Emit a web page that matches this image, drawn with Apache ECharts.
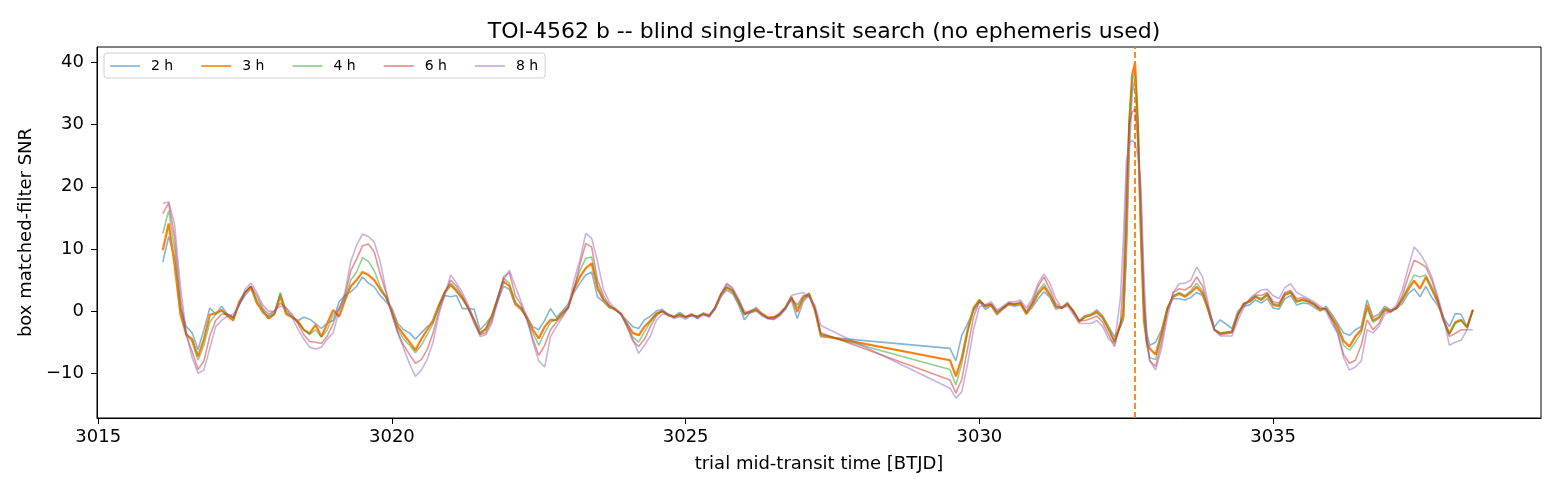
<!DOCTYPE html>
<html>
<head>
<meta charset="utf-8">
<script src="https://cdn.jsdelivr.net/npm/echarts@6/dist/echarts.min.js"></script>
<style>
html, body { margin: 0; padding: 0; background: #fff; }
#chart { width: 1560px; height: 494px; }
</style>
</head>
<body>
<div id="chart"></div>
<script>
// trial mid-transit times [BTJD] (gaps in the data near 3027.3-3029.5 and 3034.1-3034.3)
var times = [
	3016.1, 3016.2, 3016.3, 3016.4, 3016.5, 3016.6, 3016.7, 3016.8, 3016.9, 3017.0,
	3017.1, 3017.2, 3017.3, 3017.4, 3017.5, 3017.6, 3017.7, 3017.8, 3017.9, 3018.0,
	3018.1, 3018.2, 3018.3, 3018.4, 3018.5, 3018.6, 3018.7, 3018.8, 3018.9, 3019.0,
	3019.1, 3019.2, 3019.3, 3019.4, 3019.5, 3019.6, 3019.7, 3019.8, 3019.9, 3020.0,
	3020.1, 3020.2, 3020.3, 3020.4, 3020.5, 3020.6, 3020.7, 3020.8, 3020.9, 3021.0,
	3021.1, 3021.2, 3021.3, 3021.4, 3021.5, 3021.6, 3021.7, 3021.8, 3021.9, 3022.0,
	3022.1, 3022.2, 3022.3, 3022.4, 3022.5, 3022.6, 3022.7, 3022.8, 3022.9, 3023.0,
	3023.1, 3023.2, 3023.3, 3023.4, 3023.5, 3023.6, 3023.7, 3023.8, 3023.9, 3024.0,
	3024.1, 3024.2, 3024.3, 3024.4, 3024.5, 3024.6, 3024.7, 3024.8, 3024.9, 3025.0,
	3025.1, 3025.2, 3025.3, 3025.4, 3025.5, 3025.6, 3025.7, 3025.8, 3025.9, 3026.0,
	3026.1, 3026.2, 3026.3, 3026.4, 3026.5, 3026.6, 3026.7, 3026.8, 3026.9, 3027.0,
	3027.1, 3027.2, 3027.3,
	3029.5, 3029.6, 3029.7, 3029.8, 3029.9, 3030.0,
	3030.1, 3030.2, 3030.3, 3030.4, 3030.5, 3030.6, 3030.7, 3030.8, 3030.9, 3031.0,
	3031.1, 3031.2, 3031.3, 3031.4, 3031.5, 3031.6, 3031.7, 3031.8, 3031.9, 3032.0,
	3032.1, 3032.2, 3032.3, 3032.4,
	3032.45, 3032.5, 3032.55, 3032.6, 3032.65, 3032.7, 3032.75, 3032.8, 3032.85, 3032.9,
	3033.0, 3033.1, 3033.2, 3033.3, 3033.4, 3033.5, 3033.6, 3033.7, 3033.8, 3033.9, 3034.0, 3034.1,
	3034.3, 3034.4, 3034.5, 3034.6, 3034.7, 3034.8, 3034.9, 3035.0,
	3035.1, 3035.2, 3035.3, 3035.4, 3035.5, 3035.6, 3035.7, 3035.8, 3035.9, 3036.0,
	3036.1, 3036.2, 3036.3, 3036.4, 3036.5, 3036.6, 3036.7, 3036.8, 3036.9, 3037.0,
	3037.1, 3037.2, 3037.3, 3037.4, 3037.5, 3037.6, 3037.7, 3037.8, 3037.9, 3038.0,
	3038.1, 3038.2, 3038.3, 3038.4
];

var snr2h = [
	7.9, 12.0, 8.5, 0.5, -2.5, -3.5, -6.2, -3.0, 0.5, -0.5,
	0.8, -0.5, -1.0, 1.0, 2.5, 3.6, 1.5, -0.3, -0.8, -0.2,
	2.8, -0.3, -1.0, -1.5, -1.0, -1.3, -2.0, -2.8, -1.9, -1.5,
	1.5, 2.5, 3.1, 4.0, 5.5, 4.5, 3.9, 2.5, 1.5, 0.5,
	-2.0, -3.0, -3.5, -4.5, -3.5, -2.5, -1.8, 0.8, 2.5, 2.3,
	2.5, 0.4, 0.4, 0.3, -3.0, -2.0, -0.8, 1.5, 4.0, 3.5,
	1.0, 0.2, -1.0, -2.5, -3.0, -1.5, 0.4, -1.0, 0.0, 1.2,
	3.0, 4.5, 5.8, 6.3, 2.3, 1.5, 0.5, 0.5, -0.6, -1.5,
	-2.5, -2.8, -1.4, -0.8, 0.0, 0.3, -0.5, -0.8, -0.2, -0.9,
	-0.4, -1.2, -0.3, -0.6, 0.3, 2.3, 3.4, 2.8, 1.0, -1.4,
	-0.2, 0.6, -0.5, -1.2, -1.3, -0.6, 0.4, 1.8, -1.2, 1.5,
	2.6, 0.0, -4.1,
	-6.0, -8.0, -3.9, -2.0, 0.0, 1.5,
	0.3, 0.8, -0.6, 0.3, 1.0, 0.8, 1.0, -0.3, 0.6, 2.0,
	3.1, 2.2, 0.3, 0.6, 1.4, -0.3, -1.5, -0.7, -0.5, 0.2,
	-0.8, -2.5, -4.1, -2.5,
	-1.5, 8.0, 25, 35, 37.5, 28, 11.4, 1.0, -3.5, -5.5,
	-5.0, -3.0, 0.3, 2.0, 2.0, 1.8, 2.2, 3.0, 2.5, 0.3, -2.5, -1.4,
	-2.8, 0.0, 0.8, 1.0, 1.8, 1.3, 2.0, 0.5,
	0.3, 2.0, 2.5, 1.0, 1.3, 1.2, 0.6, 0.0, 0.8, -0.5,
	-2.0, -3.5, -3.9, -3.0, -2.5, 1.8, -1.0, -0.5, 0.8, 0.2,
	0.4, 1.2, 2.8, 3.6, 2.3, 4.0, 2.2, 1.0, -1.0, -2.5,
	-0.4, -0.5, -2.5, 0.2
];

var snr3h = [
	9.8, 14.1, 7.5, -0.5, -3.8, -4.5, -7.3, -4.5, -0.6, -0.3,
	0.2, -0.8, -1.5, 1.5, 3.0, 3.9, 1.3, 0.0, -1.2, -0.5,
	2.4, -0.5, -1.0, -1.6, -3.0, -3.6, -2.2, -4.1, -2.0, 0.2,
	-0.9, 1.7, 4.0, 5.0, 6.3, 5.8, 5.0, 3.5, 2.2, 0.0,
	-2.5, -3.8, -5.0, -6.3, -4.5, -3.0, -1.5, 1.0, 3.0, 4.2,
	3.2, 2.0, 0.5, -1.4, -3.5, -2.8, -0.8, 2.0, 4.8, 4.0,
	1.2, 0.4, -1.0, -3.0, -4.4, -2.5, -1.4, -1.4, -0.3, 0.6,
	3.5, 5.5, 6.9, 7.7, 3.6, 1.8, 0.7, 0.3, -0.4, -2.0,
	-3.5, -3.9, -2.5, -1.5, -0.4, 0.0, -0.7, -0.9, -0.5, -1.0,
	-0.6, -0.9, -0.4, -0.8, 0.5, 2.6, 3.8, 3.2, 1.5, -0.5,
	0.0, 0.3, -0.4, -1.0, -1.0, -0.4, 0.6, 2.3, -0.1, 2.0,
	2.8, 0.2, -3.9,
	-7.9, -10.5, -7.5, -3.0, 0.5, 1.8,
	0.7, 1.0, -0.4, 0.5, 1.2, 1.0, 1.2, -0.5, 1.0, 2.8,
	3.9, 2.5, 0.7, 0.5, 1.2, 0.0, -1.7, -0.9, -0.6, -0.1,
	-1.0, -2.8, -4.9, -2.0,
	-0.9, 12, 30, 38, 40.0, 30, 12, -1.5, -5.0, -6.0,
	-7.0, -3.5, 0.5, 2.3, 2.8, 2.3, 3.0, 3.9, 2.8, 0.0, -3.0, -3.6,
	-3.3, -0.5, 1.2, 1.5, 2.3, 1.8, 2.6, 1.0,
	0.8, 2.6, 3.0, 1.5, 1.8, 1.5, 1.0, 0.2, 0.4, -1.0,
	-2.5, -4.8, -5.7, -4.1, -3.0, 1.0, -1.5, -1.0, 0.4, 0.0,
	0.5, 1.8, 3.5, 4.9, 3.6, 5.5, 3.5, 1.5, -1.4, -3.6,
	-1.8, -1.4, -2.6, 0.2
];

var snr4h = [
	12.5, 16.2, 10.0, 0.5, -3.5, -5.0, -7.9, -5.5, -1.8, -0.5,
	0.0, -0.5, -1.2, 1.2, 3.0, 4.0, 1.8, 0.2, -1.0, -0.5,
	3.0, 0.0, -0.9, -1.8, -3.0, -3.8, -3.0, -4.2, -3.0, -0.5,
	0.2, 2.0, 5.0, 6.3, 8.6, 8.0, 6.5, 4.0, 2.2, -0.2,
	-3.0, -4.5, -5.5, -6.7, -5.5, -3.8, -2.0, 0.8, 3.2, 4.5,
	3.5, 2.2, 0.3, -1.5, -3.7, -3.0, -0.8, 2.2, 5.3, 4.5,
	1.5, 0.5, -1.3, -3.5, -5.5, -3.5, -1.8, -1.4, -0.4, 0.6,
	3.8, 6.5, 8.5, 8.7, 4.2, 2.0, 0.8, 0.2, -0.5, -2.3,
	-4.2, -5.0, -3.3, -1.8, -0.5, 0.0, -0.6, -1.0, -0.5, -0.9,
	-0.7, -0.8, -0.5, -0.7, 0.6, 2.8, 3.9, 3.3, 1.4, -0.6,
	0.0, 0.2, -0.5, -1.1, -1.0, -0.5, 0.6, 2.2, 0.5, 2.2,
	2.9, 0.5, -3.7,
	-9.4, -11.9, -8.5, -3.5, 0.2, 1.8,
	0.8, 1.0, -0.3, 0.5, 1.2, 1.1, 1.3, -0.3, 1.2, 3.2,
	4.4, 2.8, 0.8, 0.5, 1.2, 0.0, -1.6, -1.0, -0.7, -0.3,
	-1.2, -3.0, -5.0, -2.5,
	0.5, 14, 31, 37, 38.5, 30, 14, 0.0, -5.5, -7.5,
	-7.8, -4.0, 0.5, 2.5, 3.0, 2.5, 3.3, 4.5, 3.2, 0.0, -3.0, -3.5,
	-3.3, -0.5, 1.2, 1.6, 2.4, 2.0, 2.8, 1.2,
	1.0, 2.8, 3.1, 1.7, 1.9, 1.6, 1.1, 0.3, 0.4, -1.2,
	-3.0, -5.5, -6.3, -5.0, -3.5, 0.3, -1.8, -1.2, 0.3, 0.0,
	0.5, 2.0, 4.0, 5.8, 5.5, 5.8, 4.0, 1.8, -1.2, -3.8,
	-2.0, -1.5, -2.6, 0.2
];

var snr6h = [
	15.7, 17.4, 12.0, 2.0, -4.0, -6.5, -9.4, -8.0, -4.0, -1.5,
	-0.5, -0.5, -1.0, 1.0, 3.0, 4.0, 2.5, 0.5, -0.5, 0.0,
	1.3, 0.5, -0.5, -2.0, -3.8, -4.9, -5.0, -5.2, -4.0, -2.0,
	0.5, 2.5, 6.5, 8.4, 10.5, 10.8, 9.5, 6.0, 3.0, -0.5,
	-3.5, -5.5, -7.0, -8.4, -7.8, -6.2, -3.5, 0.0, 3.0, 5.0,
	4.0, 2.5, 0.5, -2.0, -3.8, -3.5, -1.5, 2.0, 5.5, 6.2,
	2.5, 1.0, -1.5, -4.5, -7.1, -5.5, -3.0, -1.8, -0.8, 0.5,
	3.5, 7.5, 10.9, 10.3, 5.0, 2.5, 1.0, 0.2, -0.5, -2.5,
	-4.8, -5.7, -4.5, -2.5, -0.8, 0.0, -0.5, -1.0, -0.8, -1.0,
	-0.6, -1.0, -0.5, -0.8, 0.5, 2.8, 4.4, 3.5, 1.8, -0.3,
	-0.2, 0.0, -0.6, -1.2, -1.1, -0.6, 0.5, 2.0, 1.0, 2.5,
	2.5, 0.5, -3.5,
	-11.1, -13.2, -11.0, -6.0, -1.0, 1.5,
	1.0, 1.2, 0.0, 0.5, 1.3, 1.2, 1.5, 0.0, 1.5, 4.0,
	5.5, 3.5, 1.2, 0.5, 1.0, 0.0, -1.5, -1.5, -1.2, -0.8,
	-1.8, -3.8, -5.7, -2.0,
	5.0, 20, 30, 32, 32.5, 27, 18, 3.0, -5.0, -8.0,
	-8.9, -5.0, 0.0, 3.0, 3.6, 3.4, 4.0, 5.5, 4.0, 0.5, -3.0, -3.8,
	-3.5, -0.8, 1.0, 1.8, 2.6, 2.5, 3.0, 1.5,
	1.3, 3.0, 3.3, 2.0, 2.2, 1.8, 1.2, 0.5, 0.3, -1.5,
	-3.5, -7.0, -8.4, -7.9, -5.5, -1.4, -3.0, -2.0, 0.0, -0.2,
	0.5, 2.5, 5.5, 8.2, 7.7, 7.1, 5.0, 2.0, -1.5, -4.1,
	-3.6, -3.0, -3.0, 0.2
];

var snr8h = [
	17.3, 17.6, 14.0, 4.0, -3.5, -7.5, -10.0, -9.5, -6.0, -2.5,
	-1.5, -0.8, -0.5, 1.0, 3.5, 4.5, 3.0, 1.0, 0.0, 0.0,
	0.8, 0.5, -1.0, -2.9, -4.5, -5.8, -6.1, -5.8, -4.5, -3.5,
	0.0, 3.0, 8.0, 10.6, 12.4, 12.0, 11.1, 8.0, 3.3, -0.5,
	-3.5, -6.0, -8.5, -10.5, -9.5, -7.8, -5.0, -0.5, 2.5, 5.8,
	4.5, 3.0, 1.0, -1.5, -4.1, -3.8, -2.0, 1.5, 5.0, 6.6,
	4.0, 1.5, -1.0, -5.0, -8.0, -9.0, -4.1, -2.5, -1.0, 0.5,
	5.0, 8.2, 12.5, 11.7, 8.0, 3.5, 1.5, 0.3, -0.5, -2.0,
	-4.5, -6.8, -5.5, -4.0, -1.5, -0.5, -0.5, -1.2, -0.9, -1.3,
	-0.7, -1.2, -0.6, -1.0, 0.3, 2.5, 4.4, 3.8, 2.0, 0.0,
	-0.3, 0.2, -0.8, -1.2, -1.4, -0.8, 0.3, 2.5, 2.8, 3.0,
	2.2, 1.0, -2.3,
	-12.4, -14.0, -13.0, -8.5, -3.0, 0.7,
	1.0, 1.5, 0.2, 0.8, 1.5, 1.5, 1.8, 0.5, 2.0, 4.5,
	6.0, 4.5, 2.0, 0.5, 0.8, -0.5, -2.0, -2.0, -2.0, -1.5,
	-2.5, -4.5, -5.2, 2.0,
	11.4, 24, 27, 27.5, 27, 25, 20, 6.0, -4.0, -8.0,
	-9.5, -6.0, -1.0, 3.0, 4.4, 4.5, 5.0, 7.1, 5.5, 1.0, -3.0, -4.0,
	-4.0, -1.5, 0.5, 2.0, 2.8, 3.4, 3.5, 2.5,
	2.0, 3.8, 4.4, 3.0, 2.5, 2.0, 1.5, 0.8, 0.0, -2.0,
	-3.6, -7.5, -9.5, -9.0, -8.0, -3.0, -3.5, -2.5, -0.5, 0.0,
	1.0, 3.4, 7.0, 10.3, 9.3, 7.7, 5.5, 2.5, -1.0, -5.5,
	-5.0, -4.7, -3.0, -3.0
];

var durations = ['2 h', '3 h', '4 h', '6 h', '8 h'];
var snrLists = [snr2h, snr3h, snr4h, snr6h, snr8h];
var lineColors = ['rgba(31,119,180,0.55)', '#ff7f0e', 'rgba(44,160,44,0.5)',
		'rgba(214,39,40,0.5)', 'rgba(148,103,189,0.5)'];
var legendColors = ['rgba(31,119,180,0.45)', 'rgba(255,127,14,0.8)', 'rgba(44,160,44,0.45)',
		'rgba(214,39,40,0.45)', 'rgba(148,103,189,0.45)'];
var lineWidths = [1.6, 2.2, 1.6, 1.6, 1.6];

var xTicks = [3015, 3020, 3025, 3030, 3035];
var yTicks = [-10, 0, 10, 20, 30, 40];
var transitTime = 3032.64;

var fontName = 'DejaVu Sans';

function minusSign(v) {
	return String(v).replace('-', '\u2212');
}

var series = [];
var legendData = [];
for (var k = 0; k < durations.length; k++) {
	var pts = [];
	for (var i = 0; i < times.length; i++) {
		pts.push([ times[i], snrLists[k][i] ]);
	}
	var s = {
		name : durations[k],
		type : 'line',
		data : pts,
		symbol : 'none',
		showSymbol : false,
		animation : false,
		z : 2 + k,
		lineStyle : {
			color : lineColors[k],
			width : lineWidths[k]
		},
		itemStyle : {
			color : lineColors[k]
		}
	};
	if (k == 1) {
		// marks the known transit time
		s.markLine = {
			silent : true,
			symbol : 'none',
			label : { show : false },
			lineStyle : {
				color : '#ff7f0e',
				type : [ 6, 3 ],
				width : 1.8
			},
			data : [ { xAxis : transitTime } ]
		};
	}
	series.push(s);
	legendData.push({
		name : durations[k],
		itemStyle : { color : legendColors[k] }
	});
}

var chart = echarts.init(document.getElementById('chart'), null, { renderer : 'canvas' });
var option = {
	backgroundColor : '#fff',
	animation : false,
	textStyle : { fontFamily : fontName },
	title : {
		text : 'TOI-4562 b -- blind single-transit search (no ephemeris used)',
		left : 819,
		top : 16,
		textAlign : 'center',
		textStyle : {
			fontFamily : fontName,
			fontSize : 22,
			fontWeight : 'normal',
			color : '#000'
		}
	},
	legend : {
		left : 104,
		top : 53,
		orient : 'horizontal',
		data : legendData,
		icon : 'rect',
		itemWidth : 30,
		itemHeight : 2,
		itemGap : 28,
		padding : [ 6, 7, 5, 6 ],
		backgroundColor : 'rgba(255,255,255,0.8)',
		borderColor : '#d0d0d0',
		borderWidth : 1,
		borderRadius : 3,
		textStyle : {
			fontFamily : fontName,
			fontSize : 14,
			color : '#000',
			padding : [ 0, 0, 0, 6 ]
		}
	},
	grid : {
		left : 97,
		right : 19,
		top : 47,
		bottom : 76,
		show : true,
		borderColor : '#000',
		borderWidth : 1,
		containLabel : false
	},
	xAxis : {
		type : 'value',
		min : 3014.98,
		max : 3039.56,
		name : 'trial mid-transit time [BTJD]',
		nameLocation : 'middle',
		nameGap : 37,
		nameTextStyle : { fontFamily : fontName, fontSize : 18, color : '#000' },
		axisLine : { show : true, onZero : false, lineStyle : { color : '#000', width : 1 } },
		axisTick : {
			show : true,
			length : 6,
			inside : false,
			customValues : xTicks,
			lineStyle : { color : '#000' }
		},
		axisLabel : {
			customValues : xTicks,
			margin : 10,
			fontFamily : fontName,
			fontSize : 18,
			color : '#000',
			formatter : function(v) { return String(v); }
		},
		splitLine : { show : false }
	},
	yAxis : {
		type : 'value',
		min : -17.2,
		max : 42.5,
		name : 'box matched-filter SNR',
		nameLocation : 'middle',
		nameGap : 58,
		nameRotate : 90,
		nameTextStyle : { fontFamily : fontName, fontSize : 18, color : '#000' },
		axisLine : { show : true, onZero : false, lineStyle : { color : '#000', width : 1 } },
		axisTick : {
			show : true,
			length : 6,
			customValues : yTicks,
			lineStyle : { color : '#000' }
		},
		axisLabel : {
			customValues : yTicks,
			margin : 13,
			fontFamily : fontName,
			fontSize : 18,
			color : '#000',
			formatter : minusSign
		},
		splitLine : { show : false }
	},
	series : series
};
chart.setOption(option);
</script>
</body>
</html>
